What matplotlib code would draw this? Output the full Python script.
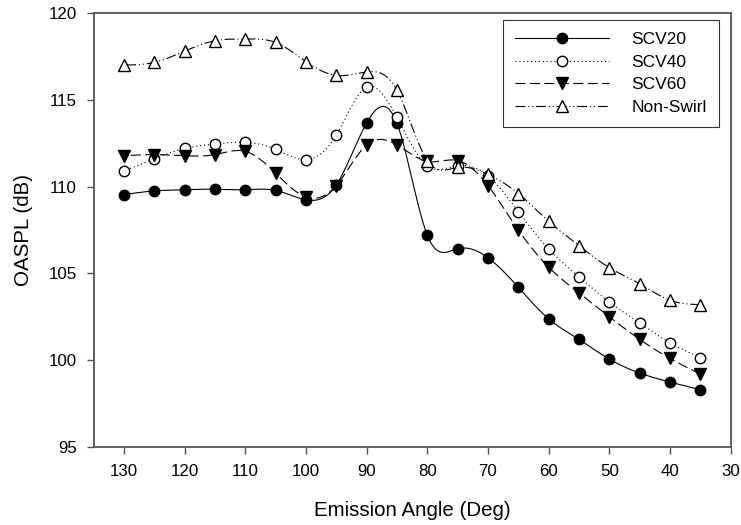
import numpy as np
import matplotlib
matplotlib.use("Agg")
import matplotlib.pyplot as plt

plt.rcParams['font.family'] = ['Liberation Sans', 'DejaVu Sans']

angles = [130, 125, 120, 115, 110, 105, 100, 95, 90, 85, 80, 75, 70, 65, 60, 55, 50, 45, 40, 35]
scv20 = [109.54, 109.75, 109.82, 109.85, 109.82, 109.78, 109.24, 110.1, 113.67, 113.64,
         107.2, 106.42, 105.9, 104.2, 102.38, 101.2, 100.06, 99.26, 98.74, 98.3]
scv40 = [110.9, 111.6, 112.2, 112.45, 112.55, 112.15, 111.55, 112.97, 115.75, 113.98,
         111.2, 111.2, 110.62, 108.56, 106.4, 104.8, 103.35, 102.15, 101.0, 100.15]
scv60 = [111.78, 111.84, 111.78, 111.84, 112.03, 110.77, 109.4, 110.06, 112.4, 112.4,
         111.45, 111.5, 110.06, 107.5, 105.36, 103.87, 102.5, 101.2, 100.1, 99.2]
nonswirl = [117.0, 117.15, 117.8, 118.4, 118.5, 118.3, 117.2, 116.4, 116.6, 115.55,
            111.5, 111.1, 110.7, 109.6, 108.0, 106.6, 105.33, 104.4, 103.45, 103.2]
labels = ['SCV20', 'SCV40', 'SCV60', 'Non-Swirl']
title_text = 'NPR 2'
xlabel = 'Emission Angle (Deg)'
ylabel = 'OASPL (dB)'


def natural_spline(x, y, n=600):
    x = np.asarray(x, float)
    y = np.asarray(y, float)
    order = np.argsort(x)
    x, y = x[order], y[order]
    m = len(x)
    h = np.diff(x)
    A = np.zeros((m, m))
    b = np.zeros(m)
    A[0, 0] = 1
    A[-1, -1] = 1
    for i in range(1, m - 1):
        A[i, i - 1] = h[i - 1]
        A[i, i] = 2 * (h[i - 1] + h[i])
        A[i, i + 1] = h[i]
        b[i] = 3 * ((y[i + 1] - y[i]) / h[i] - (y[i] - y[i - 1]) / h[i - 1])
    c = np.linalg.solve(A, b)
    xs = np.linspace(x[0], x[-1], n)
    idx = np.clip(np.searchsorted(x, xs) - 1, 0, m - 2)
    dx = xs - x[idx]
    hi = h[idx]
    bi = (y[idx + 1] - y[idx]) / hi - hi * (2 * c[idx] + c[idx + 1]) / 3
    di = (c[idx + 1] - c[idx]) / (3 * hi)
    ys = y[idx] + bi * dx + c[idx] * dx ** 2 + di * dx ** 3
    return xs, ys


fig = plt.figure(figsize=(7.41, 5.25), dpi=100)
ax = fig.add_axes([0.1264, 0.1486, 0.8596, 0.8267])

styles = [
    dict(ls='-', marker='o', mfc='black', mec='black', ms=7.5),
    dict(ls=(0, (1, 2.5)), marker='o', mfc='white', mec='black', ms=7.5),
    dict(ls=(0, (9, 4)), marker='v', mfc='black', mec='black', ms=8.5),
    dict(ls=(0, (9, 2.5, 1, 2.5, 1, 2.5)), marker='^', mfc='white', mec='black', ms=8.5),
]
series = [scv20, scv40, scv60, nonswirl]
handles = []
for vals, st, lab in zip(series, styles, labels):
    xs, ys = natural_spline(angles, vals)
    ax.plot(xs, ys, color='black', lw=0.8, ls=st['ls'], zorder=2)
    ax.plot(angles, vals, ls='none', marker=st['marker'], mfc=st['mfc'], mec=st['mec'],
            ms=st['ms'], mew=1.0, zorder=3)
    h, = ax.plot([], [], color='black', lw=0.8, ls=st['ls'], marker=st['marker'],
                 mfc=st['mfc'], mec=st['mec'], ms=st['ms'], mew=1.0, label=lab)
    handles.append(h)

ax.set_xlim(135, 30)
ax.set_ylim(95, 120)
ax.set_xticks([130, 120, 110, 100, 90, 80, 70, 60, 50, 40, 30])
ax.set_yticks([95, 100, 105, 110, 115, 120])
ax.tick_params(axis='both', direction='out', length=5, width=1, color='#555555',
               labelsize=12.2, top=False, right=False, pad=7)
for sp in ax.spines.values():
    sp.set_color('#555555')
    sp.set_linewidth(1.3)
ax.set_xlabel(xlabel, fontsize=14.8, labelpad=16)
ax.set_ylabel(ylabel, fontsize=14.8, labelpad=11)
ax.text(414, 117.97, title_text, fontsize=17.5, ha='center', va='baseline')

leg = ax.legend(handles=handles, loc='upper right', bbox_to_anchor=(0.9816, 0.9839),
                fontsize=12.5, handlelength=5.4, handletextpad=1.3, labelspacing=0.42,
                borderpad=0.7, borderaxespad=0, frameon=True, fancybox=False)
leg.get_frame().set_edgecolor('black')
leg.get_frame().set_linewidth(0.8)

fig.savefig('out.png', dpi=100)
